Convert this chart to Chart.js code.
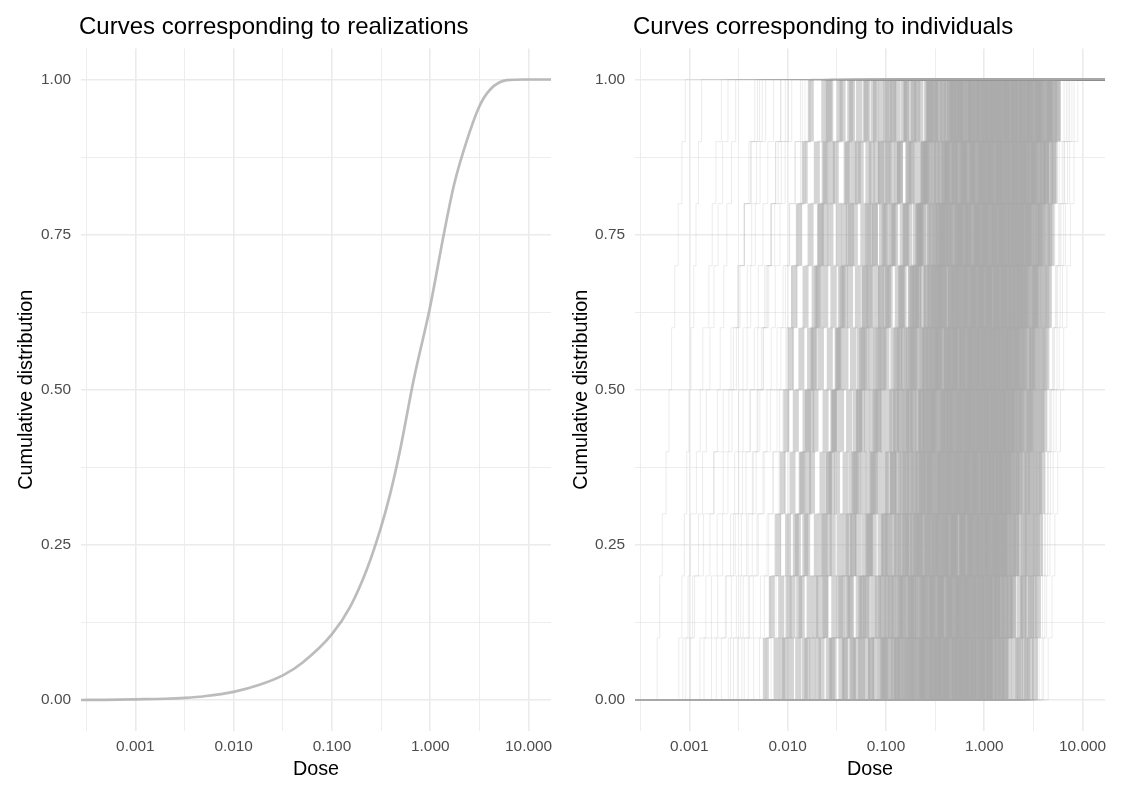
<!DOCTYPE html>
<html>
<head>
<meta charset="utf-8">
<script src="https://cdn.jsdelivr.net/npm/chart.js@4.4.1/dist/chart.umd.min.js"></script>
<style>
  html, body { margin: 0; padding: 0; background: #fff; }
  body { width: 1123px; height: 796px; position: relative; overflow: hidden;
         font-family: "Liberation Sans", Arial, Helvetica, sans-serif; }
  .panel { position: absolute; top: 0; height: 796px; }
  .title { position: absolute; top: 14px; font-size: 24px; line-height: 1; color: #000; white-space: nowrap; }
</style>
</head>
<body>
<div class="panel" style="left:0;width:561px"><canvas id="left"></canvas></div>
<div class="panel" style="left:561px;width:562px"><canvas id="right"></canvas></div>
<div class="title" style="left:79px">Curves corresponding to realizations</div>
<div class="title" style="left:633px">Curves corresponding to individuals</div>
<script>
// axis limits and breaks
const doseMin = 0.00028;
const doseMax = 16.9;
const doseTicks = [0.001, 0.01, 0.1, 1, 10];
const doseTickLabels = ['0.001', '0.010', '0.100', '1.000', '10.000'];
const doseMinor = [0.000316, 0.00316, 0.0316, 0.316, 3.16];
const cdfTicks = [0, 0.25, 0.5, 0.75, 1];
const cdfTickLabels = ['0.00', '0.25', '0.50', '0.75', '1.00'];
const cdfMinor = [0.125, 0.375, 0.625, 0.875];

// left panel: pooled curve over realizations
const realizationDose = [0.0005, 0.001, 0.002, 0.0032, 0.005, 0.01, 0.018, 0.032, 0.05, 0.1, 0.153, 0.227,
  0.316, 0.392, 0.495, 0.678, 1.0, 1.37, 1.73, 2.18, 3.16, 4.07, 6.0, 9.0];
const realizationCdf = [0.0002, 0.001, 0.002, 0.0035, 0.006, 0.013, 0.024, 0.040, 0.060, 0.106, 0.150, 0.211,
  0.279, 0.333, 0.404, 0.516, 0.635, 0.750, 0.828, 0.885, 0.957, 0.984, 0.999, 1.0];

// right panel: ten doses per individual (sorted)
const outlyingIndividuals = [
  [0.00047, 0.0005, 0.00053, 0.00058, 0.00062, 0.00066, 0.00071, 0.00077, 0.00084, 0.00091],
  [0.00078, 0.00084, 0.00089, 0.00094, 0.00099, 0.00104, 0.00111, 0.00117, 0.00124, 0.00133],
  [0.00086, 0.00097, 0.00102, 0.00118, 0.00129, 0.00137, 0.00158, 0.00171, 0.00186, 0.00212],
  [0.00092, 0.00108, 0.00139, 0.00176, 0.00221, 0.00265, 0.00309, 0.00362, 0.00428, 0.00517],
  [0.00102, 0.00113, 0.00124, 0.00136, 0.00149, 0.00162, 0.00178, 0.00196, 0.00218, 0.00247],
  [0.00128, 0.00147, 0.00162, 0.00179, 0.00193, 0.00206, 0.00224, 0.00241, 0.00268, 0.00296],
  [0.00141, 0.00168, 0.00192, 0.00221, 0.00252, 0.00281, 0.00318, 0.00362, 0.00419, 0.00492],
  [0.00168, 0.00194, 0.00218, 0.00247, 0.00272, 0.00301, 0.00328, 0.00362, 0.00404, 0.00463],
  [0.00188, 0.00232, 0.00281, 0.00347, 0.00419, 0.00497, 0.00583, 0.00676, 0.00802, 0.00948],
  [0.00212, 0.00238, 0.00262, 0.00289, 0.00318, 0.00351, 0.00388, 0.00431, 0.00482, 0.00551],
  [0.00249, 0.00268, 0.00293, 0.00318, 0.00352, 0.00387, 0.00421, 0.00468, 0.00524, 0.00597],
  [0.00262, 0.00301, 0.00338, 0.00377, 0.00412, 0.00458, 0.00503, 0.00561, 0.00628, 0.00719],
  [0.00281, 0.00332, 0.00381, 0.00438, 0.00498, 0.00562, 0.00641, 0.00738, 0.00862, 0.0102],
  [0.00308, 0.00353, 0.00396, 0.00447, 0.00489, 0.00541, 0.00603, 0.00677, 0.00752, 0.00849],
  [0.00342, 0.00409, 0.00488, 0.00577, 0.00668, 0.00779, 0.00897, 0.0104, 0.012, 0.0141],
  [0.00362, 0.00398, 0.00436, 0.00478, 0.00521, 0.00569, 0.00622, 0.00684, 0.00758, 0.00852],
  [0.00398, 0.00447, 0.00502, 0.00561, 0.00617, 0.00682, 0.00748, 0.00833, 0.00942, 0.011],
  [0.00452, 0.00528, 0.00617, 0.00718, 0.00829, 0.00958, 0.011, 0.0127, 0.0146, 0.0168],
  [0.00518, 0.00579, 0.00641, 0.00703, 0.00781, 0.00853, 0.00947, 0.0105, 0.0118, 0.0135],
  [0.00601, 0.00663, 0.00738, 0.00817, 0.00896, 0.00981, 0.011, 0.0122, 0.0135, 0.015],
  [0.00679, 0.00762, 0.00846, 0.00931, 0.0102, 0.0112, 0.0124, 0.0137, 0.0152, 0.017],
  [2.91, 3.18, 3.42, 3.71, 4.02, 4.38, 4.78, 5.21, 5.78, 6.49],
  [3.18, 3.49, 3.83, 4.16, 4.58, 4.97, 5.31, 5.72, 6.21, 6.84],
  [3.41, 3.72, 4.09, 4.41, 4.71, 5.02, 5.41, 5.88, 6.52, 7.38],
  [3.62, 3.91, 4.19, 4.48, 4.82, 5.18, 5.57, 6.03, 6.49, 7.12],
  [3.88, 4.12, 4.41, 4.71, 5.08, 5.49, 5.91, 6.42, 7.02, 7.79],
  [4.02, 4.31, 4.66, 5.01, 5.39, 5.77, 6.24, 6.71, 7.38, 8.21],
  [4.47, 4.88, 5.23, 5.58, 5.96, 6.42, 6.93, 7.51, 8.17, 8.94]
];
const centralIndividuals = [
  [0.006, 0.0069, 0.008, 0.0089, 0.0097, 0.0108, 0.0117, 0.0131, 0.0149, 0.0172],
  [0.0077, 0.0086, 0.0101, 0.0112, 0.0121, 0.0138, 0.0152, 0.0171, 0.0198, 0.0236],
  [0.0088, 0.0102, 0.0121, 0.0142, 0.0161, 0.0183, 0.0209, 0.0241, 0.0282, 0.0338],
  [0.0094, 0.0112, 0.0127, 0.0139, 0.0152, 0.0169, 0.0188, 0.0213, 0.0246, 0.0271],
  [0.0108, 0.0131, 0.0158, 0.0177, 0.0192, 0.0218, 0.0241, 0.0272, 0.0309, 0.0362],
  [0.0128, 0.0139, 0.0151, 0.0162, 0.0174, 0.0188, 0.0201, 0.0218, 0.0238, 0.0262],
  [0.0149, 0.0167, 0.0198, 0.0226, 0.0243, 0.0268, 0.0292, 0.0331, 0.0398, 0.0433],
  [0.0158, 0.0191, 0.0228, 0.0262, 0.0298, 0.0338, 0.0382, 0.0441, 0.0518, 0.0621],
  [0.0178, 0.0209, 0.0238, 0.0262, 0.0291, 0.0328, 0.0362, 0.0418, 0.0471, 0.0532],
  [0.0203, 0.0241, 0.0287, 0.0318, 0.0349, 0.0387, 0.0431, 0.0482, 0.0553, 0.0641],
  [0.0221, 0.0242, 0.0262, 0.0281, 0.0301, 0.0322, 0.0348, 0.0376, 0.0409, 0.0452],
  [0.0262, 0.0298, 0.0341, 0.0388, 0.0421, 0.0462, 0.0518, 0.0589, 0.0662, 0.0748],
  [0.0281, 0.0342, 0.0391, 0.0449, 0.0491, 0.0538, 0.0602, 0.0681, 0.0798, 0.0902],
  [0.0291, 0.0352, 0.0418, 0.0478, 0.0538, 0.0601, 0.0681, 0.0772, 0.0891, 0.106],
  [0.0352, 0.0401, 0.0468, 0.0521, 0.0569, 0.0631, 0.0692, 0.0771, 0.0889, 0.101],
  [0.0381, 0.0442, 0.0519, 0.0588, 0.0641, 0.0712, 0.0798, 0.0912, 0.102, 0.119],
  [0.0389, 0.0428, 0.0462, 0.0498, 0.0531, 0.0571, 0.0612, 0.0659, 0.0718, 0.0792],
  [0.0452, 0.0528, 0.0601, 0.0668, 0.0731, 0.0802, 0.0889, 0.101, 0.116, 0.131],
  [0.0462, 0.0561, 0.0662, 0.0751, 0.0842, 0.0938, 0.105, 0.119, 0.138, 0.162],
  [0.0501, 0.0582, 0.0688, 0.0771, 0.0823, 0.0902, 0.101, 0.115, 0.131, 0.152],
  [0.0559, 0.0652, 0.0749, 0.0862, 0.0928, 0.101, 0.109, 0.124, 0.139, 0.162],
  [0.0571, 0.0628, 0.0681, 0.0731, 0.0782, 0.0838, 0.0898, 0.0968, 0.106, 0.117],
  [0.0641, 0.0752, 0.0881, 0.0991, 0.108, 0.119, 0.132, 0.148, 0.169, 0.192],
  [0.0703, 0.0828, 0.0952, 0.106, 0.116, 0.128, 0.142, 0.161, 0.182, 0.208],
  [0.071, 0.088, 0.097, 0.121, 0.139, 0.152, 0.181, 0.219, 0.262, 0.318],
  [0.0781, 0.0921, 0.104, 0.118, 0.127, 0.138, 0.151, 0.172, 0.198, 0.223],
  [0.0882, 0.103, 0.119, 0.132, 0.143, 0.161, 0.179, 0.201, 0.228, 0.261],
  [0.092, 0.101, 0.109, 0.118, 0.126, 0.137, 0.146, 0.158, 0.171, 0.189],
  [0.0948, 0.112, 0.128, 0.141, 0.158, 0.172, 0.188, 0.212, 0.242, 0.279],
  [0.098, 0.117, 0.131, 0.149, 0.162, 0.181, 0.199, 0.224, 0.259, 0.302],
  [0.102, 0.121, 0.142, 0.161, 0.177, 0.192, 0.213, 0.238, 0.271, 0.312],
  [0.109, 0.142, 0.168, 0.191, 0.228, 0.251, 0.289, 0.341, 0.402, 0.489],
  [0.118, 0.139, 0.158, 0.179, 0.193, 0.212, 0.238, 0.269, 0.301, 0.348],
  [0.121, 0.133, 0.148, 0.159, 0.171, 0.186, 0.203, 0.219, 0.241, 0.271],
  [0.129, 0.151, 0.172, 0.198, 0.211, 0.231, 0.259, 0.292, 0.329, 0.381],
  [0.131, 0.148, 0.161, 0.173, 0.188, 0.199, 0.214, 0.232, 0.251, 0.277],
  [0.138, 0.171, 0.201, 0.232, 0.258, 0.288, 0.322, 0.369, 0.431, 0.521],
  [0.141, 0.163, 0.189, 0.217, 0.232, 0.251, 0.281, 0.318, 0.359, 0.412],
  [0.152, 0.178, 0.208, 0.231, 0.252, 0.279, 0.308, 0.342, 0.391, 0.448],
  [0.158, 0.189, 0.218, 0.262, 0.291, 0.338, 0.372, 0.428, 0.512, 0.601],
  [0.162, 0.179, 0.192, 0.209, 0.224, 0.242, 0.259, 0.281, 0.308, 0.342],
  [0.169, 0.192, 0.221, 0.249, 0.271, 0.298, 0.331, 0.372, 0.419, 0.482],
  [0.178, 0.198, 0.221, 0.238, 0.256, 0.274, 0.298, 0.321, 0.352, 0.391],
  [0.181, 0.209, 0.239, 0.268, 0.291, 0.318, 0.352, 0.398, 0.458, 0.519],
  [0.188, 0.221, 0.252, 0.281, 0.309, 0.342, 0.381, 0.428, 0.489, 0.571],
  [0.192, 0.231, 0.268, 0.298, 0.321, 0.352, 0.391, 0.442, 0.501, 0.568],
  [0.198, 0.241, 0.289, 0.322, 0.371, 0.418, 0.462, 0.531, 0.618, 0.742],
  [0.211, 0.249, 0.291, 0.328, 0.351, 0.382, 0.423, 0.481, 0.552, 0.621],
  [0.219, 0.238, 0.259, 0.279, 0.298, 0.319, 0.342, 0.371, 0.402, 0.448],
  [0.226, 0.251, 0.272, 0.291, 0.312, 0.336, 0.359, 0.388, 0.421, 0.468],
  [0.232, 0.271, 0.312, 0.351, 0.382, 0.413, 0.462, 0.519, 0.588, 0.679],
  [0.236, 0.281, 0.321, 0.362, 0.398, 0.441, 0.489, 0.552, 0.631, 0.738],
  [0.241, 0.298, 0.352, 0.398, 0.441, 0.502, 0.561, 0.642, 0.741, 0.889],
  [0.248, 0.292, 0.339, 0.381, 0.412, 0.449, 0.491, 0.562, 0.638, 0.729],
  [0.262, 0.289, 0.311, 0.338, 0.359, 0.386, 0.412, 0.448, 0.489, 0.541],
  [0.271, 0.312, 0.361, 0.409, 0.441, 0.481, 0.531, 0.602, 0.681, 0.781],
  [0.281, 0.318, 0.342, 0.371, 0.402, 0.428, 0.461, 0.498, 0.542, 0.602],
  [0.289, 0.339, 0.392, 0.432, 0.471, 0.512, 0.562, 0.638, 0.729, 0.831],
  [0.298, 0.351, 0.402, 0.449, 0.492, 0.541, 0.602, 0.679, 0.778, 0.912],
  [0.302, 0.361, 0.431, 0.482, 0.541, 0.598, 0.672, 0.761, 0.872, 1.02],
  [0.312, 0.361, 0.419, 0.471, 0.512, 0.551, 0.612, 0.691, 0.792, 0.902],
  [0.329, 0.391, 0.452, 0.501, 0.552, 0.601, 0.659, 0.748, 0.851, 0.968],
  [0.331, 0.362, 0.392, 0.421, 0.449, 0.482, 0.518, 0.561, 0.609, 0.678],
  [0.338, 0.372, 0.409, 0.441, 0.472, 0.508, 0.541, 0.582, 0.631, 0.698],
  [0.352, 0.428, 0.502, 0.571, 0.639, 0.708, 0.791, 0.898, 1.04, 1.22],
  [0.361, 0.419, 0.481, 0.541, 0.592, 0.639, 0.702, 0.801, 0.912, 1.04],
  [0.371, 0.438, 0.501, 0.559, 0.612, 0.672, 0.748, 0.842, 0.961, 1.12],
  [0.379, 0.452, 0.512, 0.581, 0.629, 0.681, 0.752, 0.849, 0.971, 1.11],
  [0.402, 0.441, 0.478, 0.512, 0.548, 0.588, 0.629, 0.679, 0.741, 0.821],
  [0.402, 0.481, 0.552, 0.609, 0.671, 0.732, 0.801, 0.912, 1.03, 1.18],
  [0.412, 0.452, 0.489, 0.528, 0.561, 0.602, 0.648, 0.698, 0.761, 0.842],
  [0.418, 0.512, 0.598, 0.681, 0.752, 0.842, 0.938, 1.06, 1.21, 1.42],
  [0.431, 0.509, 0.592, 0.661, 0.721, 0.781, 0.862, 0.971, 1.11, 1.26],
  [0.448, 0.528, 0.602, 0.671, 0.738, 0.812, 0.901, 1.01, 1.16, 1.36],
  [0.462, 0.552, 0.629, 0.702, 0.771, 0.832, 0.921, 1.04, 1.18, 1.35],
  [0.492, 0.581, 0.671, 0.752, 0.821, 0.892, 0.981, 1.1, 1.26, 1.44],
  [0.498, 0.541, 0.588, 0.632, 0.672, 0.718, 0.771, 0.829, 0.902, 0.998],
  [0.502, 0.608, 0.712, 0.802, 0.891, 0.992, 1.11, 1.24, 1.42, 1.68],
  [0.512, 0.559, 0.608, 0.652, 0.698, 0.748, 0.802, 0.868, 0.941, 1.04],
  [0.531, 0.621, 0.719, 0.802, 0.881, 0.952, 1.05, 1.18, 1.35, 1.54],
  [0.541, 0.641, 0.731, 0.821, 0.902, 0.991, 1.1, 1.24, 1.42, 1.66],
  [0.562, 0.662, 0.771, 0.862, 0.939, 1.02, 1.12, 1.26, 1.44, 1.64],
  [0.588, 0.712, 0.839, 0.951, 1.05, 1.17, 1.31, 1.48, 1.69, 1.98],
  [0.589, 0.702, 0.812, 0.902, 0.991, 1.07, 1.18, 1.33, 1.52, 1.73],
  [0.591, 0.648, 0.701, 0.752, 0.802, 0.861, 0.921, 0.992, 1.08, 1.19],
  [0.622, 0.681, 0.738, 0.791, 0.848, 0.908, 0.972, 1.05, 1.14, 1.26],
  [0.632, 0.749, 0.871, 0.971, 1.06, 1.14, 1.26, 1.42, 1.62, 1.85],
  [0.652, 0.772, 0.881, 0.988, 1.09, 1.2, 1.33, 1.49, 1.71, 2.0],
  [0.671, 0.802, 0.919, 1.03, 1.13, 1.22, 1.34, 1.51, 1.73, 1.97],
  [0.681, 0.832, 0.978, 1.11, 1.23, 1.37, 1.52, 1.72, 1.97, 2.31],
  [0.712, 0.778, 0.842, 0.902, 0.962, 1.03, 1.1, 1.19, 1.29, 1.43],
  [0.719, 0.851, 0.991, 1.1, 1.21, 1.31, 1.44, 1.62, 1.85, 2.11],
  [0.761, 0.832, 0.901, 0.968, 1.03, 1.11, 1.19, 1.28, 1.39, 1.54],
  [0.772, 0.911, 1.05, 1.17, 1.29, 1.39, 1.53, 1.72, 1.97, 2.25],
  [0.781, 0.928, 1.06, 1.19, 1.31, 1.44, 1.6, 1.8, 2.06, 2.41],
  [0.802, 0.978, 1.15, 1.3, 1.44, 1.6, 1.78, 2.01, 2.31, 2.71],
  [0.831, 0.981, 1.13, 1.26, 1.39, 1.5, 1.65, 1.86, 2.12, 2.42],
  [0.852, 0.931, 1.01, 1.08, 1.15, 1.23, 1.32, 1.42, 1.54, 1.71],
  [0.892, 1.05, 1.22, 1.35, 1.49, 1.61, 1.77, 1.99, 2.27, 2.6],
  [0.918, 1.0, 1.09, 1.17, 1.25, 1.34, 1.43, 1.55, 1.68, 1.86],
  [0.938, 1.11, 1.27, 1.42, 1.57, 1.73, 1.92, 2.16, 2.47, 2.89],
  [0.941, 1.15, 1.35, 1.52, 1.69, 1.88, 2.09, 2.36, 2.71, 3.18],
  [0.951, 1.12, 1.3, 1.44, 1.58, 1.71, 1.88, 2.12, 2.42, 2.77],
  [1.0, 1.19, 1.38, 1.53, 1.68, 1.82, 2.0, 2.25, 2.57, 2.94],
  [1.02, 1.12, 1.21, 1.3, 1.38, 1.48, 1.58, 1.7, 1.85, 2.04],
  [1.06, 1.26, 1.46, 1.62, 1.78, 1.93, 2.12, 2.39, 2.72, 3.11],
  [1.12, 1.22, 1.32, 1.42, 1.52, 1.63, 1.74, 1.88, 2.04, 2.26],
  [1.12, 1.36, 1.59, 1.79, 1.99, 2.21, 2.46, 2.77, 3.18, 3.72],
  [1.13, 1.34, 1.53, 1.71, 1.89, 2.08, 2.31, 2.6, 2.97, 3.48],
  [1.15, 1.37, 1.58, 1.76, 1.93, 2.09, 2.3, 2.58, 2.95, 3.37],
  [1.23, 1.34, 1.45, 1.55, 1.66, 1.77, 1.9, 2.04, 2.22, 2.46],
  [1.24, 1.47, 1.7, 1.89, 2.08, 2.25, 2.47, 2.78, 3.18, 3.63],
  [1.33, 1.58, 1.82, 2.03, 2.23, 2.41, 2.65, 2.98, 3.4, 3.89],
  [1.36, 1.49, 1.61, 1.73, 1.85, 1.98, 2.12, 2.29, 2.49, 2.76],
  [1.42, 1.68, 1.94, 2.16, 2.38, 2.57, 2.83, 3.18, 3.63, 4.15],
  [1.48, 1.62, 1.75, 1.88, 2.0, 2.14, 2.29, 2.47, 2.68, 2.97],
  [1.54, 1.82, 2.11, 2.34, 2.57, 2.78, 3.06, 3.45, 3.93, 4.5],
  [1.62, 1.79, 1.96, 2.11, 2.26, 2.42, 2.61, 2.83, 3.11, 3.49],
  [1.65, 1.96, 2.27, 2.52, 2.77, 3.0, 3.3, 3.71, 4.24, 4.84],
  [1.78, 1.95, 2.11, 2.26, 2.41, 2.58, 2.76, 2.98, 3.24, 3.58],
  [2.02, 2.28, 2.51, 2.71, 2.89, 3.09, 3.31, 3.58, 3.92, 4.41],
  [2.31, 2.49, 2.62, 2.78, 2.91, 3.04, 3.21, 3.39, 3.62, 3.91],
  [2.22, 2.51, 2.78, 2.98, 3.12, 3.31, 3.52, 3.81, 4.18, 4.62],
  [2.58, 2.79, 3.01, 3.18, 3.32, 3.49, 3.72, 3.98, 4.31, 4.72],
  [2.71, 2.98, 3.21, 3.42, 3.58, 3.79, 4.01, 4.32, 4.68, 5.12],
  [2.92, 3.19, 3.42, 3.61, 3.82, 4.02, 4.28, 4.59, 5.01, 5.48],
  [3.28, 3.49, 3.69, 3.88, 4.09, 4.28, 4.52, 4.81, 5.19, 5.62]
];

Chart.defaults.font.family = '"Liberation Sans", Arial, Helvetica, sans-serif';
Chart.defaults.animation = false;

const sameValue = (a, b) => Math.abs(a - b) < 1e-12 || Math.abs(Math.log10(a / b)) < 1e-6;

function labelFor(value, ticks, labels) {
  const i = ticks.findIndex(t => sameValue(value, t));
  return i >= 0 ? labels[i] : '';
}

// empirical cdf as an explicit staircase (padded to the panel edges)
function ecdf(doses) {
  const n = doses.length;
  const pts = [{ x: doseMin, y: 0 }];
  doses.forEach((d, i) => {
    pts.push({ x: d, y: i / n });
    pts.push({ x: d, y: (i + 1) / n });
  });
  pts.push({ x: doseMax, y: 1 });
  return pts;
}

const isRiser = c => Math.abs(c.p0.x - c.p1.x) < 0.01;

function scales(yWidth, yTitlePad) {
  return {
    x: {
      type: 'logarithmic', min: doseMin, max: doseMax,
      afterBuildTicks: s => { s.ticks = doseMinor.concat(doseTicks).sort((a, b) => a - b).map(v => ({ value: v })); },
      afterFit: s => { s.height = 65; },
      border: { display: false },
      grid: {
        drawTicks: false, color: '#EBEBEB',
        lineWidth: c => doseTicks.some(t => sameValue(c.tick.value, t)) ? 1.6 : 0.9
      },
      ticks: {
        autoSkip: false, maxRotation: 0, padding: 7, color: '#4D4D4D', font: { size: 15.4 },
        callback: v => labelFor(v, doseTicks, doseTickLabels)
      },
      title: { display: true, text: 'Dose', color: '#000', font: { size: 19.8 }, padding: { top: 0, bottom: 15 } }
    },
    y: {
      type: 'linear', min: -0.05, max: 1.05,
      afterBuildTicks: s => { s.ticks = cdfMinor.concat(cdfTicks).sort((a, b) => a - b).map(v => ({ value: v })); },
      afterFit: s => { s.width = yWidth; },
      border: { display: false },
      grid: {
        drawTicks: false, color: '#EBEBEB',
        lineWidth: c => cdfTicks.some(t => sameValue(c.tick.value, t)) ? 1.6 : 0.9
      },
      ticks: {
        autoSkip: false, padding: 10, color: '#4D4D4D', font: { size: 15.4 },
        callback: v => labelFor(v, cdfTicks, cdfTickLabels)
      },
      title: { display: true, text: 'Cumulative distribution', color: '#000', font: { size: 19.8 }, padding: { top: yTitlePad, bottom: 0 } }
    }
  };
}

const commonPlugins = { legend: { display: false }, tooltip: { enabled: false } };

const realizationPoints = [{ x: doseMin, y: 0 }];
realizationDose.forEach((d, i) => realizationPoints.push({ x: d, y: realizationCdf[i] }));
realizationPoints.push({ x: doseMax, y: 1 });

new Chart(document.getElementById('left'), {
  type: 'line',
  data: {
    datasets: [{
      data: realizationPoints,
      borderColor: 'rgba(169,169,169,0.78)',
      borderWidth: 2.7,
      pointRadius: 0,
      cubicInterpolationMode: 'monotone'
    }]
  },
  options: {
    responsive: true, maintainAspectRatio: false,
    layout: { padding: { left: 0, right: 10, top: 48.5, bottom: 0 } },
    plugins: commonPlugins,
    scales: scales(81, 14.5)
  }
});

const individualSets = [];
outlyingIndividuals.forEach(doses => individualSets.push({
  data: ecdf(doses), pointRadius: 0,
  borderColor: 'rgba(169,169,169,0.22)', borderWidth: 1
}));
centralIndividuals.forEach(doses => individualSets.push({
  data: ecdf(doses), pointRadius: 0,
  borderColor: 'rgba(169,169,169,0.3)', borderWidth: 1.8,
  segment: {
    borderWidth: c => isRiser(c) ? 6 : 1.8,
    borderColor: c => isRiser(c) ? 'rgba(169,169,169,0.5)' : 'rgba(169,169,169,0.3)'
  }
}));

new Chart(document.getElementById('right'), {
  type: 'line',
  data: { datasets: individualSets },
  options: {
    responsive: true, maintainAspectRatio: false,
    layout: { padding: { left: 0, right: 18, top: 48.5, bottom: 0 } },
    plugins: commonPlugins,
    scales: scales(74, 8.6)
  }
});
</script>
</body>
</html>
